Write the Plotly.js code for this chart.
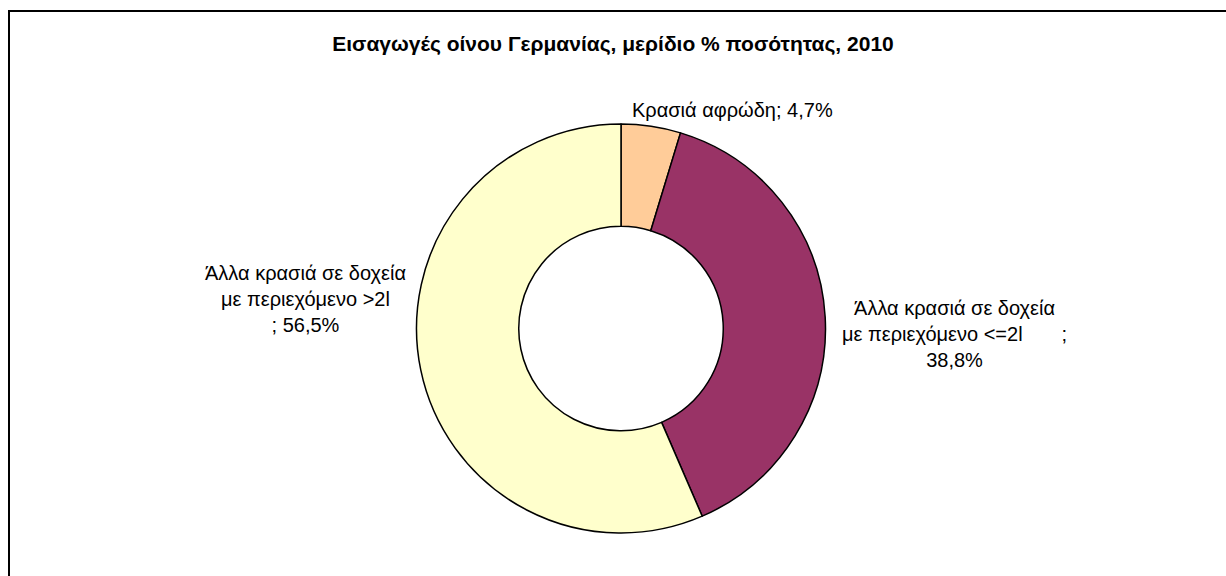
<!DOCTYPE html>
<html>
<head>
<meta charset="utf-8">
<script src="https://cdn.plot.ly/plotly-3.0.1.min.js"></script>
<style>
  html, body { margin: 0; padding: 0; background: #fff; }
  #chart { width: 1226px; height: 576px; }
</style>
</head>
<body>
<div id="chart"></div>
<script>
// data
const chartTitle = 'Εισαγωγές οίνου Γερμανίας, μερίδιο % ποσότητας, 2010';
const categories = [
  'Κρασιά αφρώδη',
  'Άλλα κρασιά σε δοχεία<br>με περιεχόμενο <=2l\u00a0\u00a0\u00a0\u00a0\u00a0\u00a0\u00a0',
  'Άλλα κρασιά σε δοχεία<br>με περιεχόμενο >2l<br>'
];
const shares = [4.7, 38.8, 56.5];
const sliceColors = ['#FFCC99', '#993366', '#FFFFCC'];

// label placement (paper coords), one per slice
const labelPos = [
  { x: 732 / 1226, y: 1 - 110 / 576 },
  { x: 954 / 1226, y: 1 - 334 / 576 },
  { x: 305 / 1226, y: 1 - 299 / 576 }
];

const fmt = (v) => v.toFixed(1).replace('.', ',') + '%';

const trace = {
  type: 'pie',
  labels: categories,
  values: shares,
  sort: false,
  direction: 'clockwise',
  rotation: 0,
  hole: 0.5,
  textinfo: 'none',
  hoverinfo: 'label+percent',
  marker: { colors: sliceColors, line: { color: '#000', width: 1.5 } },
  domain: { x: [416.5 / 1226, 825.5 / 1226], y: [43 / 576, 452 / 576] },
  showlegend: false
};

const annotations = categories.map((c, i) => ({
  xref: 'paper', yref: 'paper',
  x: labelPos[i].x, y: labelPos[i].y,
  xanchor: 'center', yanchor: 'middle',
  showarrow: false,
  align: 'center',
  text: c + (c.endsWith('<br>') || i === 0 ? '; ' : ';<br>') + fmt(shares[i]),
  font: { family: 'Liberation Sans, Arial, sans-serif', size: 20, color: '#000' }
}));

const layout = {
  width: 1226,
  height: 576,
  margin: { l: 0, r: 0, t: 0, b: 0 },
  paper_bgcolor: '#fff',
  title: {
    text: '<b>' + chartTitle + '</b>',
    x: 0.5, xanchor: 'center',
    y: 1 - 44 / 576, yanchor: 'middle',
    font: { family: 'Liberation Sans, Arial, sans-serif', size: 21, color: '#000' }
  },
  annotations: annotations,
  shapes: [{
    type: 'rect', xref: 'paper', yref: 'paper',
    x0: 9 / 1226, x1: 1.02, y0: -0.02, y1: 1 - 11 / 576,
    line: { color: '#000', width: 2 }, fillcolor: 'rgba(0,0,0,0)'
  }]
};

Plotly.newPlot('chart', [trace], layout, { staticPlot: true });
</script>
</body>
</html>
